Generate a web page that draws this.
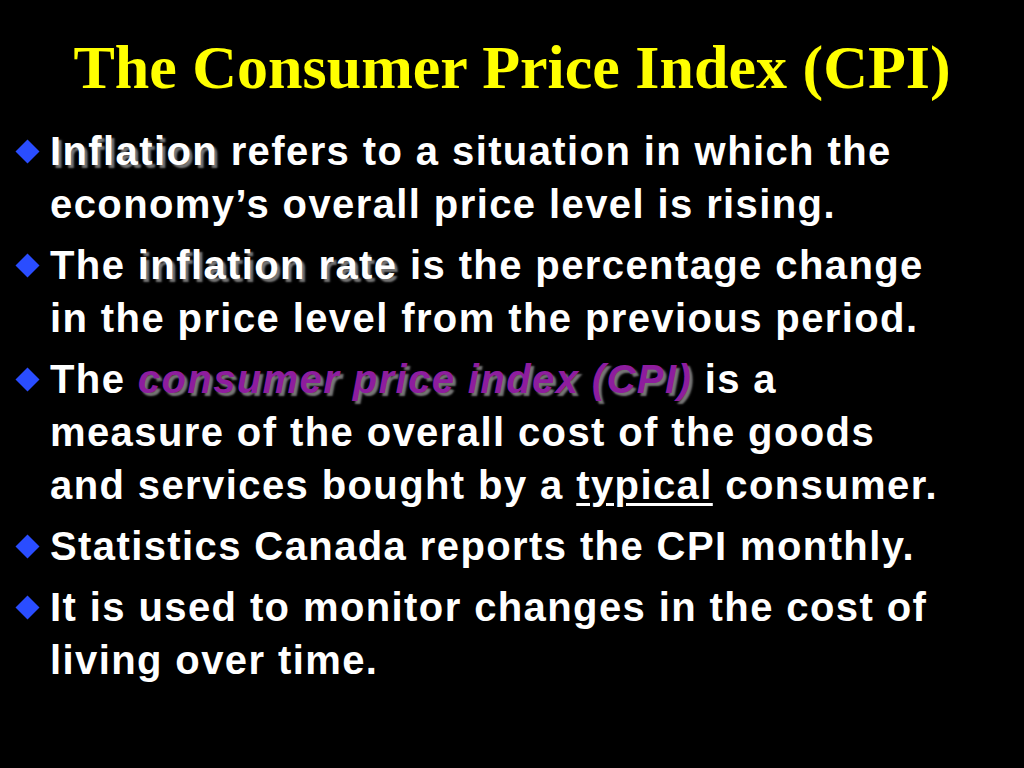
<!DOCTYPE html>
<html><head><meta charset="utf-8">
<script src="https://cdn.jsdelivr.net/npm/chart.js"></script>
<style>
html,body{margin:0;padding:0;background:#000;width:1024px;height:768px;overflow:hidden}
h1{margin:0;position:absolute;top:32px;left:0;width:1024px;text-align:center;font-family:"Liberation Serif","DejaVu Serif",serif;font-weight:bold;font-size:62px;color:#ffff00;line-height:70px;white-space:nowrap}
ul{list-style:none;margin:0;padding:0;position:absolute;top:125px;left:50px;width:974px;font-family:"Liberation Sans",Arial,sans-serif;font-weight:bold;font-size:40px;letter-spacing:1.4px;color:#fff;line-height:53px;white-space:nowrap}
li{position:relative;margin-bottom:8px}
li::before{content:"";position:absolute;left:-31px;top:18px;width:17px;height:17px;background:#2a4dff;transform:rotate(45deg)}
.em{text-shadow:3px 3px 2px #777}
.p{color:#8e1d9e;font-style:italic}
u{text-decoration-thickness:3px;text-underline-offset:4px}
</style></head><body>
<h1>The Consumer Price Index (CPI)</h1>
<ul>
<li><span class="em">Inflation</span> refers to a situation in which the<br>economy’s overall price level is rising.</li>
<li>The <span class="em">inflation rate</span> is the percentage change<br>in the price level from the previous period.</li>
<li>The <span class="em p">consumer price index (CPI)</span> is a<br>measure of the overall cost of the goods<br>and services bought by a <u>typical</u> consumer.</li>
<li>Statistics Canada reports the CPI monthly.</li>
<li>It is used to monitor changes in the cost of<br>living over time.</li>
</ul>
</body></html>
